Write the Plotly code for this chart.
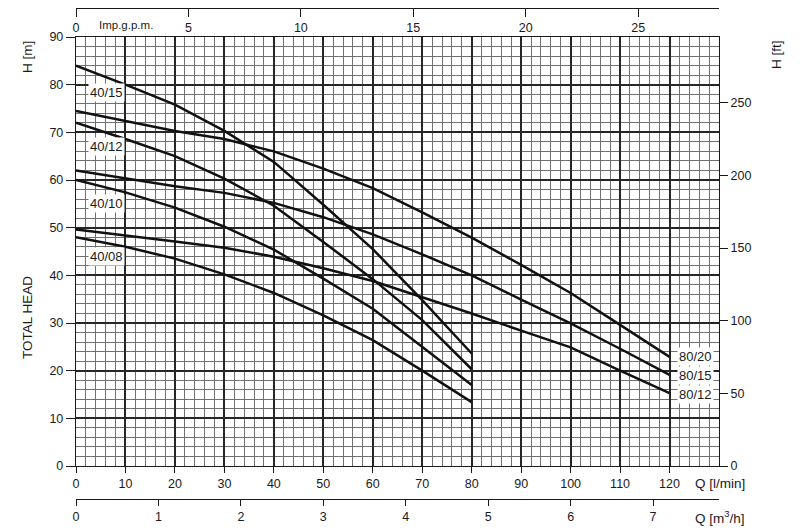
import plotly.graph_objects as go

# Q [l/min] points
q_40 = [0, 10, 20, 30, 40, 50, 60, 70, 80]
q_80 = [0, 10, 20, 30, 40, 50, 60, 70, 80, 90, 100, 110, 120]

# H [m] per pump
h_40_15 = [84, 80, 75.8, 70.3, 63.8, 54.8, 45.5, 34.8, 23.6]
h_40_12 = [72, 68.6, 65, 60.3, 54.6, 47, 39.2, 30.6, 20.3]
h_40_10 = [60, 57.4, 54.2, 50.2, 45.4, 39.3, 33, 25, 17]
h_40_08 = [48, 46, 43.5, 40.2, 36.3, 31.6, 26.4, 20, 13.4]
h_80_20 = [74.5, 72.4, 70.3, 68.6, 66, 62.4, 58.3, 53.2, 47.9, 42.2, 36.3, 29.6, 22.9]
h_80_15 = [62, 60.3, 58.7, 57.3, 55.2, 52.2, 48.6, 44.4, 40, 34.9, 29.9, 24.6, 19.1]
h_80_12 = [49.6, 48.4, 47.1, 45.8, 43.9, 41.5, 38.8, 35.4, 32, 28.4, 24.9, 20, 15.3]

names_40 = ["40/15", "40/12", "40/10", "40/08"]
names_80 = ["80/20", "80/15", "80/12"]

# axis ticks
q_ticks = list(range(0, 130, 10))
h_ticks = list(range(0, 100, 10))
ft_ticks = [0, 50, 100, 150, 200, 250]
gpm_ticks = [0, 5, 10, 15, 20, 25]
m3h_ticks = [0, 1, 2, 3, 4, 5, 6, 7]

Q_MAX = 130
H_MAX = 90
FT_PER_M = 3.28084
LMIN_PER_GPM = 4.54609
M3H_PER_LMIN = 0.06

W, H = 800, 532
ML, MR, MT, MB = 76, 81, 8, 33
PLOT_TOP, PLOT_BOT = 37, 466
paper_h = H - MT - MB
paper_w = W - ML - MR


def px_x(p):
    return (p - ML) / paper_w


def px_y(p):
    return (H - MB - p) / paper_h


FONT = "Liberation Sans, Arial, sans-serif"
INK = "#1a1a1a"

fig = go.Figure()

for name, h in zip(names_40, [h_40_15, h_40_12, h_40_10, h_40_08]):
    fig.add_trace(go.Scatter(x=q_40, y=h, mode="lines", name=name,
                             line=dict(color="#111", width=2.5)))
for name, h in zip(names_80, [h_80_20, h_80_15, h_80_12]):
    fig.add_trace(go.Scatter(x=q_80, y=h, mode="lines", name=name,
                             line=dict(color="#111", width=2.5)))

# invisible traces so the extra scales get drawn
fig.add_trace(go.Scatter(x=[0], y=[0], xaxis="x2", yaxis="y", mode="markers",
                         marker=dict(opacity=0), hoverinfo="skip"))
fig.add_trace(go.Scatter(x=[0], y=[0], xaxis="x3", yaxis="y", mode="markers",
                         marker=dict(opacity=0), hoverinfo="skip"))
fig.add_trace(go.Scatter(x=[0], y=[0], xaxis="x", yaxis="y2", mode="markers",
                         marker=dict(opacity=0), hoverinfo="skip"))

y_dom = [px_y(PLOT_BOT), px_y(PLOT_TOP)]
tickfont = dict(family=FONT, size=12.5, color=INK)
major = dict(showgrid=True, gridcolor="#262626", gridwidth=1.5)
minor_grid = dict(tickmode="linear", tick0=0, dtick=2, showgrid=True,
                  gridcolor="#707070", gridwidth=1)

fig.update_layout(
    width=W, height=H,
    margin=dict(l=ML, r=MR, t=MT, b=MB),
    paper_bgcolor="white", plot_bgcolor="white",
    showlegend=False,
    font=dict(family=FONT, color=INK),
    xaxis=dict(
        range=[0, Q_MAX], tickmode="array", tickvals=q_ticks,
        ticks="outside", ticklen=6, tickcolor=INK, tickfont=tickfont,
        showline=True, linecolor=INK, linewidth=1.4, mirror=True,
        zeroline=False, automargin=False, minor=minor_grid, **major,
    ),
    xaxis2=dict(
        range=[0, Q_MAX / LMIN_PER_GPM], overlaying="x", side="bottom",
        anchor="free", position=1, tickmode="array", tickvals=gpm_ticks,
        ticks="outside", ticklen=8, tickcolor=INK,
        tickfont=tickfont, showline=True, linecolor=INK, linewidth=1.2,
        showgrid=False, zeroline=False, automargin=False,
    ),
    xaxis3=dict(
        range=[0, Q_MAX * M3H_PER_LMIN], overlaying="x", side="bottom",
        anchor="free", position=0, tickmode="array", tickvals=m3h_ticks,
        ticks="outside", ticklen=6, tickcolor=INK,
        tickfont=tickfont, showline=True, linecolor=INK, linewidth=1.2,
        showgrid=False, zeroline=False, automargin=False,
    ),
    yaxis=dict(
        domain=y_dom, range=[0, H_MAX], tickmode="array", tickvals=h_ticks,
        ticks="outside", ticklen=9, tickcolor=INK, tickfont=tickfont,
        showline=True, linecolor=INK, linewidth=1.4, mirror=True,
        zeroline=False, automargin=False, minor=minor_grid, **major,
    ),
    yaxis2=dict(
        range=[0, H_MAX * FT_PER_M], overlaying="y", side="right",
        tickmode="array", tickvals=ft_ticks, ticks="outside", ticklen=8,
        tickcolor=INK, tickfont=tickfont, showgrid=False, zeroline=False,
        showline=False, automargin=False,
    ),
)

# curve labels
label_font = dict(family=FONT, size=13, color=INK)
for name, y in zip(names_40, [78.3, 67, 55, 43.9]):
    fig.add_annotation(x=6.1, y=y, xref="x", yref="y", text=name,
                       xanchor="center", yanchor="middle",
                       showarrow=False, font=label_font, bgcolor="white",
                       borderpad=1)
for name, y in zip(names_80, [22.9, 19, 15]):
    fig.add_annotation(x=125.2, y=y, xref="x", yref="y", text=name,
                       xanchor="center", yanchor="middle",
                       showarrow=False, font=label_font, bgcolor="white",
                       borderpad=1)

# axis captions
title_font = dict(family=FONT, size=13.5, color=INK)
captions = [
    ("H [m]", 27, 57, -90),
    ("TOTAL HEAD", 27, 318, -90),
    ("H [ft]", 777, 55, -90),
    ("Q [l/min]", 720, 483, 0),
    ("Q [m<sup>3</sup>/h]", 720, 517, 0),
]
for text, cx, cy, ang in captions:
    fig.add_annotation(x=px_x(cx), y=px_y(cy), xref="paper", yref="paper",
                       xanchor="center", yanchor="middle", text=text,
                       textangle=ang, showarrow=False, font=title_font)
fig.add_annotation(x=px_x(97), y=px_y(25), xref="paper", yref="paper",
                   xanchor="left", yanchor="middle", text="Imp.g.p.m.",
                   showarrow=False, font=dict(family=FONT, size=11.5, color=INK))

fig.write_html("out.html", config={"displayModeBar": False},
               post_script="document.body.style.margin='0';")
